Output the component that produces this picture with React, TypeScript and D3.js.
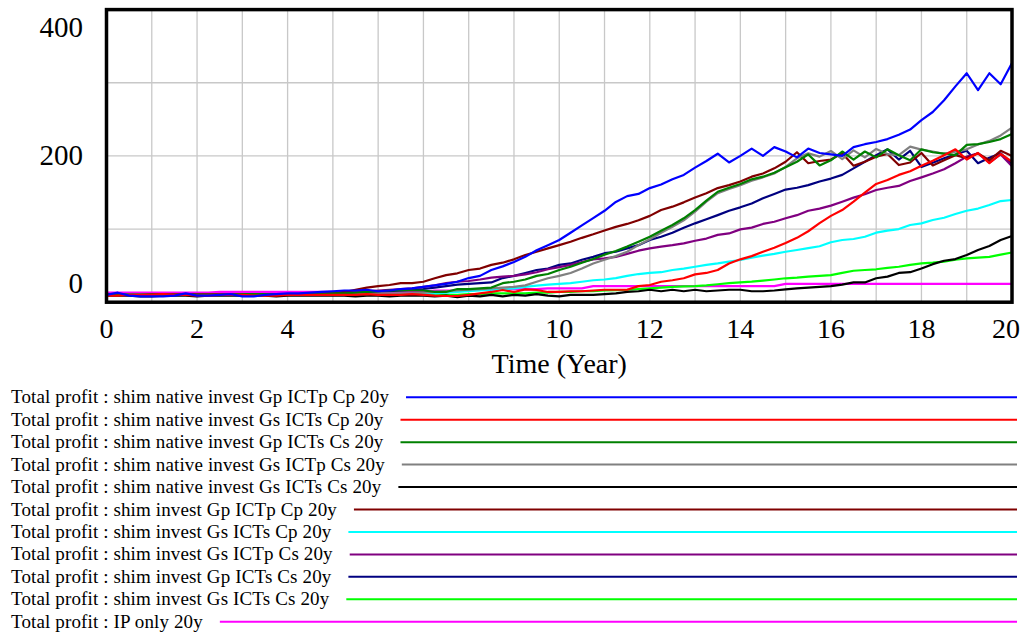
import React, { useEffect, useRef } from "react";
import * as d3 from "d3";

const TIME_STEP = 0.25;
const TIME_END = 20;

const Y_TICKS = [0, 200, 400];
const Y_GRID = [100, 200, 300];
const X_TICKS = [0, 2, 4, 6, 8, 10, 12, 14, 16, 18, 20];
const X_GRID = d3.range(1, 20, 1);

const LABELS = [
  "Total profit : shim native invest Gp ICTp Cp 20y",
  "Total profit : shim native invest Gs ICTs Cp 20y",
  "Total profit : shim native invest Gp ICTs Cs 20y",
  "Total profit : shim native invest Gs ICTp Cs 20y",
  "Total profit : shim native invest Gs ICTs Cs 20y",
  "Total profit : shim invest Gp ICTp Cp 20y",
  "Total profit : shim invest Gs ICTs Cp 20y",
  "Total profit : shim invest Gs ICTp Cs 20y",
  "Total profit : shim invest Gp ICTs Cs 20y",
  "Total profit : shim invest Gs ICTs Cs 20y",
  "Total profit : IP only 20y",
];

const COLORS = [
  "#0000ff", "#ff0000", "#008000", "#808080", "#000000",
  "#800000", "#00ffff", "#800080", "#000080", "#00ff00", "#ff00ff",
];

const nativeGpICTpCp = [
  10, 13, 9, 8, 8, 8, 9, 12, 9, 9, 10, 11, 8, 8, 10, 11, 12, 12, 13, 14,
  15, 16, 16, 17, 15, 16, 18, 19, 21, 23, 25, 28, 33, 36, 44, 49, 55, 62, 71, 78,
  85, 95, 105, 115, 125, 137, 145, 148, 156, 161, 168, 174, 184, 193, 203, 191, 200, 210, 200, 212,
  206, 198, 210, 204, 202, 200, 212, 216, 219, 223, 229, 236, 249, 260, 276, 295, 313, 290, 313, 298,
  327,
];
const nativeGsICTsCp = [
  9, 9, 10, 10, 10, 11, 10, 10, 9, 9, 10, 10, 10, 9, 9, 9, 10, 10, 10, 10,
  10, 10, 10, 11, 10, 10, 10, 11, 10, 9, 8.5, 8.5, 10, 12, 14, 16.7, 14, 17.6, 16.7, 14,
  14, 15, 15, 16, 17, 17, 17, 22, 23.5, 28, 30, 32.7, 38, 40, 44, 53, 58.6, 63, 69, 74.5,
  81, 88, 97, 108, 118, 126, 137.4, 149.7, 161.6, 167, 174, 179, 186.6, 193.4, 201, 209, 195, 204, 190, 202.6,
  192,
];
const nativeGpICTsCs = [
  11, 11, 10, 10, 10, 10, 10, 10, 10, 10, 10, 11, 11, 11, 11, 11, 11, 11, 11, 11,
  12, 12, 13, 14, 15, 16, 16, 16, 16, 14, 14, 18, 18, 19, 20, 26, 28, 31, 36, 38.5,
  44, 48.5, 54, 59, 65, 70, 76, 82.7, 89.5, 97.7, 105.5, 114.7, 126, 138.8, 151, 156.5, 161.6, 168, 171.6, 177,
  184.4, 192, 202, 187, 194, 206, 195, 206, 198, 209, 201, 194, 209, 205, 203, 201, 215, 216, 219, 223,
  230,
];
const nativeGsICTpCs = [
  10, 10, 10, 10, 10, 10, 10, 10, 10, 10, 10, 10, 10, 10, 10, 10, 10, 10, 10, 10,
  11, 11, 11, 11, 12, 12, 12, 12, 13, 14, 15, 16, 17, 18, 19, 20, 21, 23, 28, 32.7,
  36, 40, 46, 53, 58, 63, 69, 78, 86, 95, 103, 112, 123.7, 137.4, 149, 154.7, 160, 166, 170.7, 176,
  185, 196.7, 203.5, 199, 206.7, 195.5, 207.5, 198, 209.5, 202.5, 201, 212.6, 208.5, 206, 203, 205.7, 209, 215.5, 220.5, 228,
  238.6,
];
const nativeGsICTsCs = [
  9, 9, 9, 8, 8, 9, 9, 9, 8, 9, 9, 9, 9, 9, 9, 8, 9, 9, 9, 9,
  9, 9, 8, 9, 9, 8, 9, 9, 9, 8, 9, 7, 9, 8, 10, 8, 10, 9, 11, 9,
  8, 10, 10, 10, 11, 12, 14, 15, 17, 15, 17, 15, 17, 15, 16, 17, 17, 15, 15, 16,
  17.6, 19, 20, 21, 22, 24, 27, 27, 32.7, 35, 40, 41, 46, 52, 56.7, 59, 64.5, 71.4, 76.8, 85,
  90.5,
];
const investGpICTpCp = [
  10, 10, 10, 10, 11, 11, 11, 11, 11, 11, 11, 11, 11, 11, 11, 11, 11, 11, 12, 12,
  12, 14, 17, 20, 22, 23.5, 26, 26, 28, 32.7, 37, 39.5, 44, 46, 51, 54, 58.6, 64.5, 69, 73.6,
  78, 82.7, 88, 92.8, 98, 103, 107, 112, 118, 126, 130.6, 136.5, 143, 149, 156, 160, 165, 171.6, 176, 183,
  192, 205, 190, 193, 195, 203.5, 186.6, 192, 199, 202.6, 187.5, 191, 204, 187, 194, 201, 197, 203.5, 194, 207,
  200,
];
const investGsICTsCp = [
  10, 10, 10, 10, 10, 10, 10, 10, 10, 10, 10, 10, 10, 10, 10, 10, 10, 10, 10, 10,
  10, 10, 10, 10, 11, 11, 11, 11, 12, 12, 13, 14, 15, 16, 17, 18, 19, 21, 22.6, 24,
  25, 26, 28, 30, 31, 33, 36, 38.5, 40, 41, 44, 46, 48.5, 51, 53, 55.4, 57.7, 61, 63.6, 66,
  69, 71.4, 74, 76.5, 82, 85, 86.4, 89.5, 95, 97.8, 100, 105.5, 107.8, 112.4, 115.5, 120.6, 125, 128, 132.9, 138.3,
  139.7,
];
const investGsICTpCs = [
  10, 10, 10, 10, 10, 10, 10, 10, 11, 11, 11, 11, 11, 11, 11, 11, 11, 11, 11, 11,
  12, 13, 14, 15, 16, 17, 18, 19, 21, 23, 26, 28, 29, 31, 33.5, 35, 36, 38, 41, 45,
  48, 51, 55, 58.6, 60, 62, 66, 70.4, 73.6, 76, 78, 80.5, 84, 87, 92, 94, 99.6, 102, 107, 110,
  114.7, 119, 125, 128, 132, 137.4, 143, 147.5, 153.4, 156.5, 159, 165.7, 170.7, 176, 181.7, 190, 199, 203.5, 190.7, 202,
  186,
];
const investGpICTsCs = [
  10, 10, 10, 10, 10, 10, 10, 10, 10, 10, 10, 10, 10, 10, 10, 10, 10, 10, 10, 10,
  11, 12, 13, 14, 14, 15, 16, 17, 18, 20, 22, 24, 25, 26, 27, 33, 36, 40, 44, 46,
  51, 53, 58, 62, 67, 69, 73.6, 78, 85, 89.5, 95, 101.8, 107.8, 113.3, 119, 125, 129.7, 135, 142, 148,
  154, 156.5, 160, 165, 169, 174, 183, 192, 201, 209, 195, 207, 185, 190.7, 196.7, 202, 207, 190, 197.6, 203.5,
  189,
];
const investGsICTsCs = [
  10, 10, 10, 10, 10, 10, 10, 10, 10, 10, 10, 10, 10, 10, 10, 10, 10, 10, 10, 10,
  10, 10, 10, 10, 10, 10, 10, 10, 10, 10, 10, 10, 11, 11, 12, 12, 12, 12, 13, 13,
  14, 14, 15, 15, 16, 16.5, 17, 18, 19, 20, 21, 21.5, 22, 23, 24.5, 26, 27, 28, 29.5, 31,
  32.7, 33.5, 35, 36, 37, 40, 43, 44, 45, 47, 48.5, 51, 53, 54, 55.4, 58, 60, 61, 62, 65,
  68,
];
const ipOnly = [
  13, 13, 13, 13, 13, 13, 13, 13, 13, 13, 14, 14, 14, 14, 14, 14, 14, 14, 14, 14,
  14, 14, 14, 14, 14, 14, 14, 14, 14, 16, 16, 16, 16, 17, 17, 17, 18, 18, 18, 19,
  19, 19, 19, 22, 22, 22, 22, 22, 22, 22, 22, 22, 22, 22, 22, 22, 22, 22, 22, 22,
  25, 25, 25, 25, 25, 25, 25, 25, 25, 25, 25, 25, 25, 25, 25, 25, 25, 25, 25, 25,
  25,
];

const SERIES = [
  nativeGpICTpCp, nativeGsICTsCp, nativeGpICTsCs, nativeGsICTpCs, nativeGsICTsCs,
  investGpICTpCp, investGsICTsCp, investGsICTpCs, investGpICTsCs, investGsICTsCs, ipOnly,
];

const W = 1029;
const H = 633;
const FONT = "'Liberation Serif', 'Times New Roman', serif";

export default function App() {
  const ref = useRef<SVGSVGElement | null>(null);

  useEffect(() => {
    const svg = d3.select(ref.current);
    svg.selectAll("*").remove();

    const left = 106.5, right = 1012, top = 9.6, bottom = 302.2;
    const x = d3.scaleLinear().domain([0, TIME_END]).range([left, right]);
    const y = d3.scaleLinear().domain([0, 400]).range([bottom, top]);
    const times = d3.range(0, TIME_END + 1e-9, TIME_STEP);

    // grid
    const grid = svg.append("g").attr("stroke", "#c8c8c8").attr("stroke-width", 1.3);
    X_GRID.forEach((t) => {
      grid.append("line").attr("x1", x(t)).attr("x2", x(t)).attr("y1", top).attr("y2", bottom);
    });
    Y_GRID.forEach((v) => {
      grid.append("line").attr("x1", left).attr("x2", right).attr("y1", y(v)).attr("y2", y(v));
    });

    // series lines (first series on top)
    const line = d3
      .line<number>()
      .x((_, i) => x(times[i]))
      .y((d) => y(d));
    const lines = svg.append("g").attr("fill", "none").attr("stroke-width", 2.2).attr("stroke-linejoin", "round");
    for (let i = SERIES.length - 1; i >= 0; i--) {
      lines.append("path").attr("d", line(SERIES[i]) as string).attr("stroke", COLORS[i]);
    }

    // frame
    svg
      .append("rect")
      .attr("x", left)
      .attr("y", top)
      .attr("width", right - left)
      .attr("height", bottom - top)
      .attr("fill", "none")
      .attr("stroke", "#000")
      .attr("stroke-width", 3.5);

    // y tick labels
    const yl = svg.append("g").attr("font-family", FONT).attr("font-size", 28).attr("fill", "#000");
    Y_TICKS.forEach((v) => {
      const by = Math.min(Math.max(y(v) + 9, 37.3), 293);
      yl.append("text").attr("x", 83).attr("y", by).attr("text-anchor", "end").attr("font-size", 29).text(String(v));
    });

    // x tick labels
    X_TICKS.forEach((t) => {
      const tx = yl.append("text").attr("y", 338).attr("text-anchor", "middle").text(String(t));
      const w = (tx.node() as SVGTextElement).getComputedTextLength();
      const cx = Math.min(x(t), 1020 - w / 2);
      tx.attr("x", cx);
    });

    yl.append("text")
      .attr("x", (left + right) / 2)
      .attr("y", 373)
      .attr("text-anchor", "middle")
      .text("Time (Year)");

    // legend
    const lg = svg
      .append("g")
      .attr("font-family", FONT)
      .attr("font-size", 19)
      .attr("letter-spacing", 0.13)
      .attr("fill", "#000");
    LABELS.forEach((lab, i) => {
      const ly = 397.3 + i * 22.44;
      const t = lg.append("text").attr("x", 11).attr("y", ly + 6).text(lab);
      const w = (t.node() as SVGTextElement).getComputedTextLength();
      lg.append("line")
        .attr("x1", 11 + w + 17)
        .attr("x2", 1017)
        .attr("y1", ly)
        .attr("y2", ly)
        .attr("stroke", COLORS[i])
        .attr("stroke-width", 2);
    });
  }, []);

  return (
    <svg
      ref={ref}
      width={W}
      height={H}
      style={{ position: "absolute", left: 0, top: 0, display: "block", background: "#fff" }}
    />
  );
}
